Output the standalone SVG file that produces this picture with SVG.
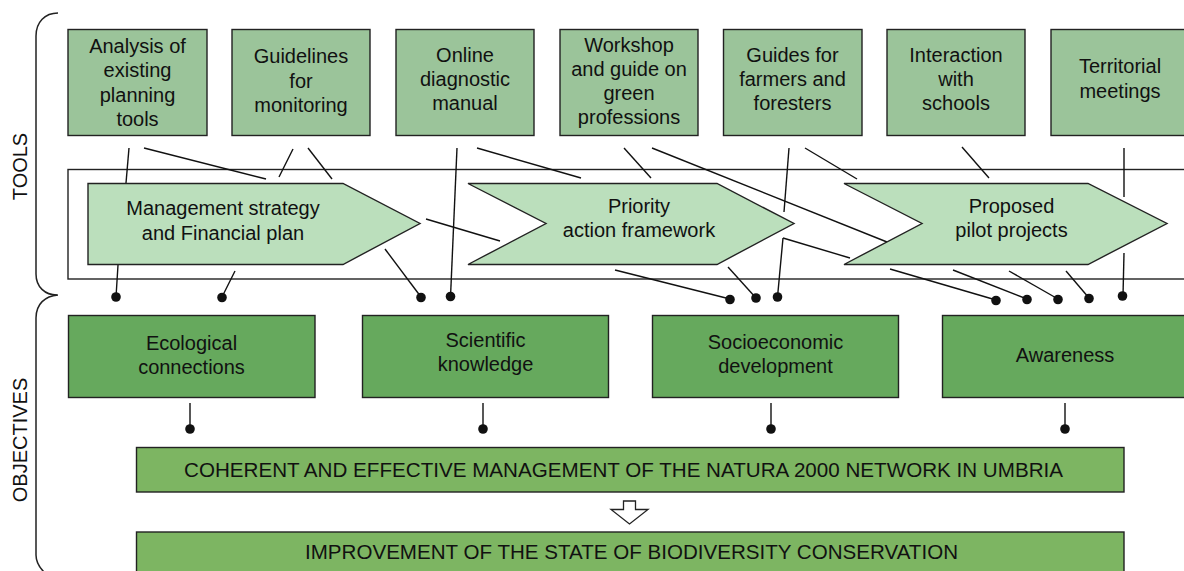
<svg xmlns="http://www.w3.org/2000/svg" width="1184" height="571" viewBox="0 0 1184 571">
<style>
text{font-family:"Liberation Sans",Arial,sans-serif;font-size:20px;fill:#111;text-anchor:middle}
.tool{fill:#9bc49a;stroke:#222;stroke-width:1.4}
.chev{fill:#bbdfbc;stroke:#222;stroke-width:1.4}
.obj{fill:#66a95d;stroke:#222;stroke-width:1.4}
.goal{fill:#7db562;stroke:#222;stroke-width:1.4}
.ln{stroke:#111;stroke-width:1.4;fill:none}
.dot{fill:#111}
.brace{fill:none;stroke:#222;stroke-width:1.5}
</style>
<rect width="1184" height="571" fill="#fff"/>
<g id="braces">
<path class="brace" d="M58,13 C45,13 36,22 36,36 L36,274 C36,287 45,295 57,295"/>
<path class="brace" d="M58,295 C45,296 36,304 36,318 L36,555 C36,563 40,568 44,572"/>
<text transform="translate(27,166.5) rotate(-90)">TOOLS</text>
<text transform="translate(27,440) rotate(-90)">OBJECTIVES</text>
</g>
<g id="band"><rect x="68" y="169.5" width="1140" height="109.5" fill="none" stroke="#222" stroke-width="1.4"/></g>
<g id="connectors">
<line class="ln" x1="129" y1="148" x2="126" y2="183"/>
<line class="ln" x1="144" y1="148" x2="266" y2="179"/>
<line class="ln" x1="293" y1="149" x2="279" y2="177"/>
<line class="ln" x1="308" y1="148" x2="332" y2="179"/>
<line class="ln" x1="457" y1="148" x2="450.5" y2="297"/>
<line class="ln" x1="477" y1="148" x2="581" y2="178"/>
<line class="ln" x1="624" y1="148" x2="651" y2="178"/>
<line class="ln" x1="652" y1="148" x2="887" y2="242"/>
<line class="ln" x1="789" y1="148" x2="784" y2="212"/>
<line class="ln" x1="805" y1="148" x2="857" y2="179"/>
<line class="ln" x1="962" y1="147" x2="989" y2="178"/>
<line class="ln" x1="1124" y1="148" x2="1124" y2="197"/>
<line class="ln" x1="426" y1="219" x2="500" y2="241"/>
<line class="ln" x1="783" y1="238" x2="850" y2="258"/>
<line class="ln" x1="118" y1="265" x2="116" y2="297"/>
<line class="ln" x1="235" y1="271" x2="222" y2="297"/>
<line class="ln" x1="385" y1="249" x2="421" y2="297"/>
<line class="ln" x1="615" y1="270" x2="730" y2="299"/>
<line class="ln" x1="728" y1="267" x2="756" y2="298"/>
<line class="ln" x1="783" y1="238" x2="777.5" y2="297"/>
<line class="ln" x1="890" y1="269" x2="996" y2="300"/>
<line class="ln" x1="953" y1="270" x2="1027" y2="299"/>
<line class="ln" x1="1009" y1="271" x2="1058" y2="299"/>
<line class="ln" x1="1066" y1="271" x2="1089" y2="298"/>
<line class="ln" x1="1124" y1="253" x2="1123" y2="296"/>
<circle class="dot" cx="116" cy="297" r="4.8"/>
<circle class="dot" cx="222" cy="297.5" r="4.8"/>
<circle class="dot" cx="421" cy="297.5" r="4.8"/>
<circle class="dot" cx="450.5" cy="296.5" r="4.8"/>
<circle class="dot" cx="730" cy="299.5" r="4.8"/>
<circle class="dot" cx="756" cy="298" r="4.8"/>
<circle class="dot" cx="777.5" cy="297" r="4.8"/>
<circle class="dot" cx="996" cy="300.5" r="4.8"/>
<circle class="dot" cx="1027" cy="299.5" r="4.8"/>
<circle class="dot" cx="1058" cy="299.5" r="4.8"/>
<circle class="dot" cx="1089" cy="298.5" r="4.8"/>
<circle class="dot" cx="1122.5" cy="296" r="4.8"/>
<line class="ln" x1="190" y1="403" x2="190" y2="429"/>
<line class="ln" x1="483" y1="403" x2="483" y2="429"/>
<line class="ln" x1="771" y1="403" x2="771" y2="429"/>
<line class="ln" x1="1065" y1="403" x2="1065" y2="429"/>
<circle class="dot" cx="190" cy="429" r="4.8"/>
<circle class="dot" cx="483" cy="429" r="4.8"/>
<circle class="dot" cx="771" cy="429" r="4.8"/>
<circle class="dot" cx="1065" cy="429" r="4.8"/>
<path d="M623.5,501 L635.5,501 L635.5,509.5 L648,509.5 L629.5,524 L611,509.5 L623.5,509.5 Z" fill="#fff" stroke="#222" stroke-width="1.3"/>
</g>
<g id="tool1"><rect class="tool" x="68" y="29.5" width="139" height="106"/>
<text x="137.5" y="52.5">Analysis of</text><text x="137.5" y="77">existing</text><text x="137.5" y="101.5">planning</text><text x="137.5" y="126">tools</text></g>
<g id="tool2"><rect class="tool" x="232" y="29.5" width="138" height="106"/>
<text x="301" y="63.3">Guidelines</text><text x="301" y="87.5">for</text><text x="301" y="111.7">monitoring</text></g>
<g id="tool3"><rect class="tool" x="396" y="29.5" width="138" height="106"/>
<text x="465" y="61.7">Online</text><text x="465" y="86">diagnostic</text><text x="465" y="110">manual</text></g>
<g id="tool4"><rect class="tool" x="560" y="29.5" width="138" height="106"/>
<text x="629" y="51.7">Workshop</text><text x="629" y="76">and guide on</text><text x="629" y="100">green</text><text x="629" y="124">professions</text></g>
<g id="tool5"><rect class="tool" x="723.5" y="29.5" width="138.5" height="106"/>
<text x="792.5" y="61.7">Guides for</text><text x="792.5" y="86">farmers and</text><text x="792.5" y="110">foresters</text></g>
<g id="tool6"><rect class="tool" x="887" y="29.5" width="138" height="106"/>
<text x="956" y="61.7">Interaction</text><text x="956" y="86">with</text><text x="956" y="110">schools</text></g>
<g id="tool7"><rect class="tool" x="1051" y="29.5" width="138" height="106"/>
<text x="1120" y="73.3">Territorial</text><text x="1120" y="98">meetings</text></g>
<g id="chev1"><path class="chev" d="M88,183.5 L343,183.5 L420,223.5 L343,264.5 L88,264.5 Z"/>
<text x="223" y="215">Management strategy</text><text x="223" y="240">and Financial plan</text></g>
<g id="chev2"><path class="chev" d="M468,183.5 L717,183.5 L794,223.5 L717,264.5 L468,264.5 L546,223.5 Z"/>
<text x="639" y="213.3">Priority</text><text x="639" y="237.3">action framework</text></g>
<g id="chev3"><path class="chev" d="M844,183.5 L1088,183.5 L1167,223.5 L1088,264.5 L844,264.5 L922,223.5 Z"/>
<text x="1011.5" y="213.3">Proposed</text><text x="1011.5" y="237.3">pilot projects</text></g>
<g id="obj1"><rect class="obj" x="68.5" y="315.5" width="246.5" height="82"/>
<text x="191.5" y="350">Ecological</text><text x="191.5" y="374">connections</text></g>
<g id="obj2"><rect class="obj" x="362.5" y="315.5" width="246" height="82"/>
<text x="485.5" y="347">Scientific</text><text x="485.5" y="371">knowledge</text></g>
<g id="obj3"><rect class="obj" x="652.5" y="315.5" width="246" height="82"/>
<text x="775.5" y="349">Socioeconomic</text><text x="775.5" y="373">development</text></g>
<g id="obj4"><rect class="obj" x="942.5" y="315.5" width="246" height="82"/>
<text x="1065" y="361.5">Awareness</text></g>
<g id="goal1"><rect class="goal" x="136.5" y="447.5" width="987.5" height="44.5"/>
<text x="623.5" y="476.5" style="font-size:20.5px" textLength="879" lengthAdjust="spacingAndGlyphs">COHERENT AND EFFECTIVE MANAGEMENT OF THE NATURA 2000 NETWORK IN UMBRIA</text></g>
<g id="goal2"><rect class="goal" x="136.5" y="532" width="987.5" height="50"/>
<text x="631.5" y="559.3" style="font-size:20.5px" textLength="653" lengthAdjust="spacingAndGlyphs">IMPROVEMENT OF THE STATE OF BIODIVERSITY CONSERVATION</text></g>
</svg>
